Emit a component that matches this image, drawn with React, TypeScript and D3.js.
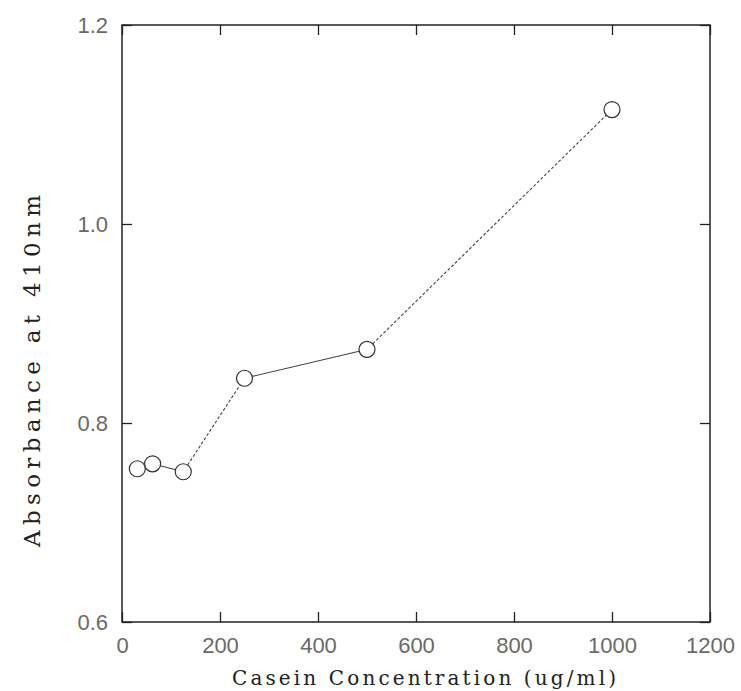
import { useEffect, useRef } from 'react'
import * as d3 from 'd3'

const W = 741
const H = 691
const MARGIN = { top: 25, right: 31, bottom: 69, left: 122 }

const concentrations = [31.25, 62.5, 125, 250, 500, 1000]
const absorbance = [0.754, 0.759, 0.751, 0.845, 0.874, 1.115]
const xTicks = [0, 200, 400, 600, 800, 1000, 1200]
const yTicks = [0.6, 0.8, 1.0, 1.2]

export default function App() {
  const svgRef = useRef<SVGSVGElement>(null)

  useEffect(() => {
    const el = svgRef.current
    if (!el) return
    const w = W - MARGIN.left - MARGIN.right
    const h = H - MARGIN.top - MARGIN.bottom

    d3.select(el).selectAll('*').remove()
    const svg = d3.select(el)
      .append('g')
      .attr('transform', `translate(${MARGIN.left},${MARGIN.top})`)

    const x = d3.scaleLinear().domain([0, 1200]).range([0, w])
    const y = d3.scaleLinear().domain([0.6, 1.2]).range([h, 0])

    const styleAxis = (g: any) => {
      g.select('.domain').remove()
      g.selectAll('line').attr('stroke', '#222').attr('stroke-width', 1.3)
      g.selectAll('text')
        .attr('fill', '#6a6a6a')
        .attr('font-size', '22px')
        .attr('font-family', 'Liberation Sans, sans-serif')
        .attr('font-weight', 300)
    }

    // Frame
    svg.append('rect')
      .attr('width', w).attr('height', h)
      .attr('fill', 'none')
      .attr('stroke', '#222')
      .attr('stroke-width', 1.5)

    // Axes with inward ticks
    svg.append('g')
      .attr('transform', `translate(0,${h})`)
      .call(d3.axisBottom(x).tickValues(xTicks).tickSize(-10).tickPadding(15).tickFormat(d3.format('d')))
      .call(styleAxis)
    svg.append('g')
      .call(d3.axisTop(x).tickValues(xTicks).tickSize(-10).tickFormat(() => ''))
      .call(styleAxis)
    svg.append('g')
      .call(d3.axisLeft(y).tickValues(yTicks).tickSize(-10).tickPadding(14).tickFormat(d3.format('.1f')))
      .call(styleAxis)
    svg.append('g')
      .attr('transform', `translate(${w},0)`)
      .call(d3.axisRight(y).tickValues(yTicks).tickSize(-10).tickFormat(() => ''))
      .call(styleAxis)

    const pts = concentrations.map((c, i) => ({ px: x(c), py: y(absorbance[i]) }))
    const r = 8

    // Connecting segments, stopping at the circle edges
    pts.slice(1).forEach((p, i) => {
      const a = pts[i]
      const dx = p.px - a.px
      const dy = p.py - a.py
      const len = Math.hypot(dx, dy)
      if (len <= 2 * r) return
      const ux = dx / len
      const uy = dy / len
      svg.append('line')
        .attr('x1', a.px + ux * r).attr('y1', a.py + uy * r)
        .attr('x2', p.px - ux * r).attr('y2', p.py - uy * r)
        .attr('stroke', '#444')
        .attr('stroke-width', 1.1)
        .attr('stroke-dasharray', i >= 2 && i !== 3 ? '3,2' : null)
    })

    svg.selectAll('circle.pt')
      .data(pts)
      .join('circle')
      .attr('class', 'pt')
      .attr('cx', d => d.px)
      .attr('cy', d => d.py)
      .attr('r', r)
      .attr('fill', 'white')
      .attr('stroke', '#333')
      .attr('stroke-width', 1.2)

    // Axis titles
    svg.append('text')
      .attr('x', 232 - MARGIN.left)
      .attr('y', 685 - MARGIN.top)
      .attr('fill', '#222')
      .attr('font-size', '20px')
      .attr('font-family', 'DejaVu Serif, serif')
      .attr('textLength', 384)
      .attr('lengthAdjust', 'spacing')
      .text('Casein Concentration  (ug/ml)')

    svg.append('text')
      .attr('transform', 'rotate(-90)')
      .attr('x', -(547 - MARGIN.top))
      .attr('y', 40 - MARGIN.left)
      .attr('fill', '#222')
      .attr('font-size', '23px')
      .attr('font-family', 'DejaVu Serif, serif')
      .attr('textLength', 352)
      .attr('lengthAdjust', 'spacing')
      .text('Absorbance at 410nm')
  }, [])

  return (
    <svg
      ref={svgRef}
      width={W}
      height={H}
      style={{ display: 'block', background: 'white', position: 'fixed', top: 0, left: 0 }}
    />
  )
}
